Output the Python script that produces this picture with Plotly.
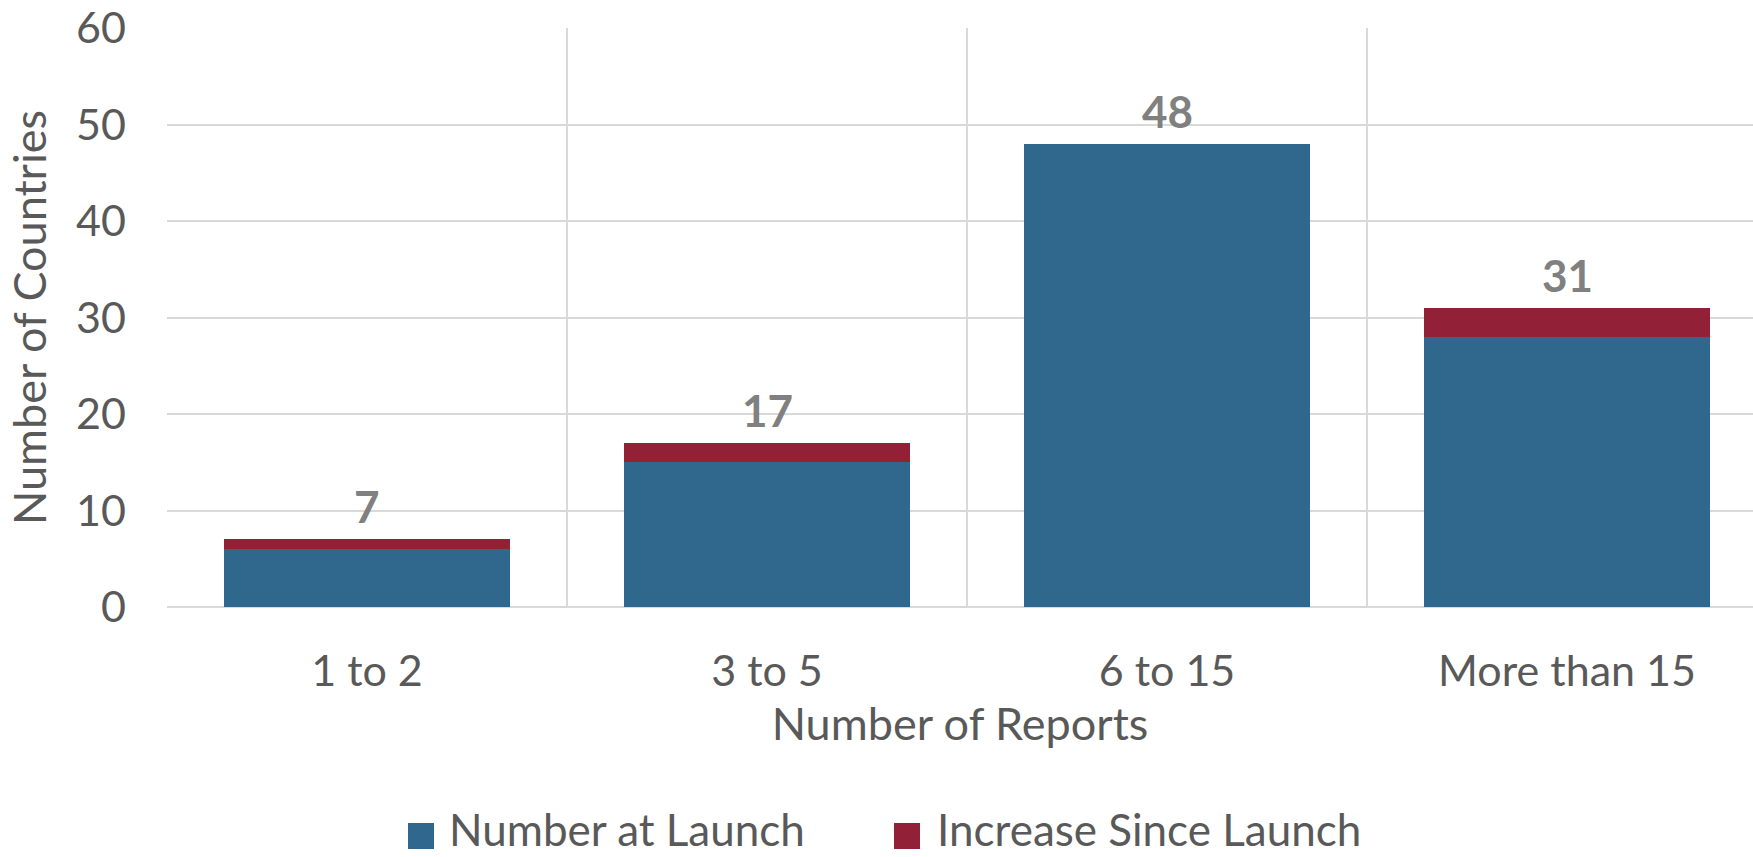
import plotly.graph_objects as go

categories = ["1 to 2", "3 to 5", "6 to 15", "More than 15"]
at_launch = [6, 15, 48, 28]
increase = [1, 2, 0, 3]
totals = [a + b for a, b in zip(at_launch, increase)]
series_names = ["Number at Launch", "Increase Since Launch"]
colors = ["#30688D", "#922037"]
y_ticks = [0, 10, 20, 30, 40, 50, 60]

W, H = 1753, 857
L, R, T, B = 167, 0, 28, 250
FONT = "Lato"
TXT = "#595959"

fig = go.Figure()
fig.add_trace(go.Bar(x=categories, y=at_launch, name=series_names[0],
                     marker=dict(color=colors[0], line=dict(width=0)), width=0.714))
fig.add_trace(go.Bar(x=categories, y=increase, name=series_names[1],
                     marker=dict(color=colors[1], line=dict(width=0)), width=0.714))

for c, t in zip(categories, totals):
    fig.add_annotation(x=c, y=t, text=f"<b>{t}</b>", showarrow=False,
                       yanchor="bottom", yshift=5,
                       font=dict(family=FONT, size=44, color="#808080"))

# custom legend (pixel -> paper helpers)
pw, ph = W - L - R, H - T - B
def px(x):
    return (x - L) / pw
def py(y):
    return (H - B - y) / ph

legend_items = [(408, 447), (894, 935)]
for (sx, tx), name, col in zip(legend_items, series_names, colors):
    fig.add_shape(type="rect", xref="paper", yref="paper",
                  x0=px(sx), x1=px(sx + 26), y0=py(823), y1=py(849),
                  fillcolor=col, line=dict(width=0))
    fig.add_annotation(xref="paper", yref="paper", x=px(tx), y=py(857),
                       xanchor="left", yanchor="bottom", text=name, showarrow=False,
                       font=dict(family=FONT, size=44, color=TXT))

fig.update_layout(
    width=W, height=H, barmode="stack", showlegend=False,
    margin=dict(l=L, r=R, t=T, b=B, autoexpand=False),
    plot_bgcolor="white", paper_bgcolor="white",
    font=dict(family=FONT, size=42, color=TXT),
    bargap=0.286,
)
fig.update_xaxes(
    type="category", range=[-0.5, -0.5 + pw / 400.0],
    showgrid=True, gridcolor="#D9D9D9", gridwidth=1.5, tickson="boundaries",
    ticks="", ticklabelstandoff=35,
    showline=False, zeroline=False, automargin=False,
    tickfont=dict(family=FONT, size=43, color=TXT),
    title=dict(text="Number of Reports", standoff=14,
               font=dict(family=FONT, size=45, color=TXT)),
)
fig.update_yaxes(
    range=[0, 60], tickvals=y_ticks, showgrid=True, gridcolor="#D9D9D9", gridwidth=1.5,
    zeroline=True, zerolinecolor="#D9D9D9", zerolinewidth=1.5,
    ticks="", ticklabelstandoff=40, ticklabeloverflow="allow", automargin=False,
    tickfont=dict(family=FONT, size=43, color=TXT),
    title=dict(text="Number of Countries", standoff=15,
               font=dict(family=FONT, size=45, color=TXT)),
)

fig.write_html("out.html", config={"displayModeBar": False},
               post_script="document.body.style.margin='0';document.body.style.overflow='hidden';")
